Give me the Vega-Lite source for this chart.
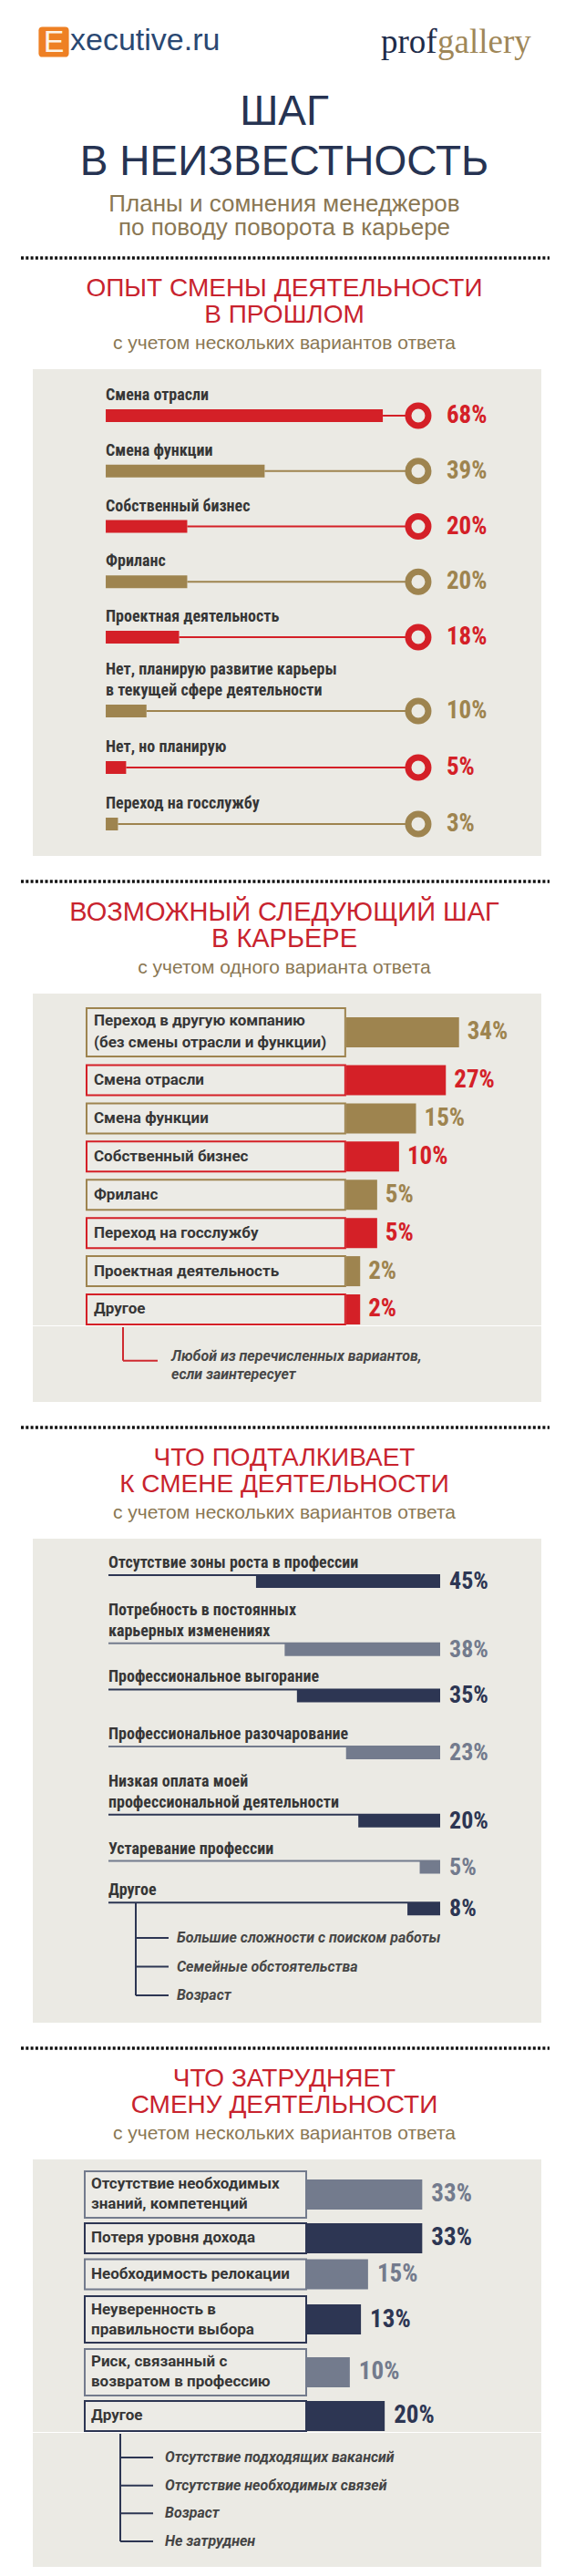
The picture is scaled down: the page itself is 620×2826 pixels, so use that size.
{
  "$schema": "https://vega.github.io/schema/vega-lite/v6.json",
  "padding": 0,
  "background": "white",
  "spacing": 18,
  "resolve": {"scale": {"color": "independent", "stroke": "independent"}},
  "config": {
    "view": {"stroke": null},
    "text": {"lineBreak": "\n"},
    "title": {"font": "Liberation Sans", "fontSize": 28, "fontWeight": "normal", "lineHeight": 29, "color": "#c8232e", "subtitleFont": "Liberation Sans", "subtitleFontSize": 21, "subtitleColor": "#8a7753", "subtitlePadding": 6, "subtitleLineHeight": 23, "offset": 17, "anchor": "middle", "dx": 15}
  },
  "datasets": {
    "one": [{}],
    "brands": [{"brand": "Executive.ru"}, {"brand": "profgallery"}],
    "past": [
      {"option": "Смена отрасли", "share": 0.68},
      {"option": "Смена функции", "share": 0.39},
      {"option": "Собственный бизнес", "share": 0.20},
      {"option": "Фриланс", "share": 0.20},
      {"option": "Проектная деятельность", "share": 0.18},
      {"option": "Нет, планирую развитие карьеры\nв текущей сфере деятельности", "share": 0.10},
      {"option": "Нет, но планирую", "share": 0.05},
      {"option": "Переход на госслужбу", "share": 0.03}
    ],
    "next": [
      {"option": "Переход в другую компанию\n(без смены отрасли и функции)", "share": 0.34},
      {"option": "Смена отрасли", "share": 0.27},
      {"option": "Смена функции", "share": 0.15},
      {"option": "Собственный бизнес", "share": 0.10},
      {"option": "Фриланс", "share": 0.05},
      {"option": "Переход на госслужбу", "share": 0.05},
      {"option": "Проектная деятельность", "share": 0.02},
      {"option": "Другое", "share": 0.02}
    ],
    "nextNote": [
      {"option": "Другое", "detail": "Любой из перечисленных вариантов,\nесли заинтересует"}
    ],
    "push": [
      {"reason": "Отсутствие зоны роста в профессии", "share": 0.45},
      {"reason": "Потребность в постоянных\nкарьерных изменениях", "share": 0.38},
      {"reason": "Профессиональное выгорание", "share": 0.35},
      {"reason": "Профессиональное разочарование", "share": 0.23},
      {"reason": "Низкая оплата моей\nпрофессиональной деятельности", "share": 0.20},
      {"reason": "Устаревание профессии", "share": 0.05}
    ],
    "pushOther": [
      {"reason": "Другое", "share": 0.08},
      {"reason": "Большие сложности с поиском работы", "share": null},
      {"reason": "Семейные обстоятельства", "share": null},
      {"reason": "Возраст", "share": null}
    ],
    "hinder": [
      {"obstacle": "Отсутствие необходимых\nзнаний, компетенций", "share": 0.33},
      {"obstacle": "Потеря уровня дохода", "share": 0.33},
      {"obstacle": "Необходимость релокации", "share": 0.15},
      {"obstacle": "Неуверенность в\nправильности выбора", "share": 0.13},
      {"obstacle": "Риск, связанный с\nвозвратом в профессию", "share": 0.10},
      {"obstacle": "Другое", "share": 0.20}
    ],
    "hinderOther": [
      {"obstacle": "Отсутствие подходящих вакансий"},
      {"obstacle": "Отсутствие необходимых связей"},
      {"obstacle": "Возраст"},
      {"obstacle": "Не затруднен"}
    ]
  },
  "vconcat": [
    {
      "width": 620, "height": 92,
      "data": {"name": "brands"},
      "title": {
        "text": ["ШАГ", "В НЕИЗВЕСТНОСТЬ"],
        "subtitle": ["Планы и сомнения менеджеров", "по поводу поворота в карьере"],
        "orient": "bottom", "offset": 9, "dx": 2,
        "fontSize": 46, "lineHeight": 55, "color": "#263352",
        "subtitleFontSize": 26, "subtitleLineHeight": 26, "subtitlePadding": 9
      },
      "encoding": {
        "x": {"field": "brand", "type": "nominal", "axis": null, "scale": {"type": "point", "padding": 0.3635, "align": 0.226}}
      },
      "layer": [
        {"transform": [{"filter": "datum.brand === 'Executive.ru'"}],
         "mark": {"type": "point", "shape": "M-0.75,-1H0.75Q1,-1 1,-0.75V0.75Q1,1 0.75,1H-0.75Q-1,1 -1,0.75V-0.75Q-1,-1 -0.75,-1Z", "size": 1100, "filled": true, "color": "#ee8024", "opacity": 1}},
        {"transform": [{"filter": "datum.brand === 'Executive.ru'"}],
         "mark": {"type": "text", "text": "E", "font": "Liberation Sans", "fontSize": 34, "color": "#fdf4e8", "align": "center", "baseline": "middle", "dy": 1}},
        {"transform": [{"filter": "datum.brand === 'Executive.ru'"}],
         "mark": {"type": "text", "text": "xecutive.ru", "font": "Liberation Sans", "fontSize": 34, "color": "#2a4872", "align": "left", "baseline": "alphabetic", "dx": 18, "dy": 9}},
        {"transform": [{"filter": "datum.brand === 'profgallery'"}],
         "mark": {"type": "text", "text": "prof", "font": "Liberation Serif", "fontSize": 37, "color": "#1e2b49", "align": "left", "baseline": "alphabetic", "dy": 12}},
        {"transform": [{"filter": "datum.brand === 'profgallery'"}],
         "mark": {"type": "text", "text": "gallery", "font": "Liberation Serif", "fontSize": 37, "color": "#9f8758", "align": "left", "baseline": "alphabetic", "dx": 62, "dy": 12}}
      ]
    },
    {
      "width": 620, "height": 1,
      "data": {"name": "one"},
      "mark": {"type": "rule", "strokeDash": [3, 2.3], "strokeWidth": 3.3, "color": "#111111"},
      "encoding": {
        "x": {"datum": 0.0371, "type": "quantitative", "axis": null, "scale": {"domain": [0, 1], "nice": false}},
        "x2": {"datum": 0.9726},
        "y": {"datum": 0, "type": "quantitative", "axis": null, "scale": {"domain": [0, 1]}}
      }
    },
    {
      "title": {"text": ["ОПЫТ СМЕНЫ ДЕЯТЕЛЬНОСТИ", "В ПРОШЛОМ"], "subtitle": "с учетом нескольких вариантов ответа"},
      "spacing": 0, "bounds": "flush",
      "resolve": {"scale": {"color": "independent", "stroke": "independent"}},
      "hconcat": [
        {"width": 36, "height": 10, "data": {"name": "one"}, "mark": {"type": "text", "text": ""}, "encoding": {}},
        {
          "spacing": 0, "bounds": "flush",
          "resolve": {"scale": {"color": "independent", "stroke": "independent"}},
          "vconcat": [
            {
              "width": 558, "height": 309,
              "view": {"fill": "#ebeae4", "stroke": null},
              "data": {"name": "past"},
              "transform": [{"filter": {"field": "option", "oneOf": ["Смена отрасли", "Смена функции", "Собственный бизнес", "Фриланс", "Проектная деятельность"]}}],
              "encoding": {
                "y": {"field": "option", "type": "nominal", "axis": null, "scale": {"type": "point", "domain": ["Смена отрасли", "Смена функции", "Собственный бизнес", "Фриланс", "Проектная деятельность"], "padding": 0.543, "align": 0.773}}
              },
              "layer": [
                {"mark": {"type": "rule", "strokeWidth": 2},
                 "encoding": {
                   "x": {"field": "share", "type": "quantitative", "axis": null, "scale": {"domain": [-0.179, 1.069], "zero": false, "nice": false}},
                   "x2": {"datum": 0.767},
                   "color": {"field": "option", "type": "nominal", "legend": null, "scale": {"domain": ["Смена отрасли", "Смена функции", "Собственный бизнес", "Фриланс", "Проектная деятельность"], "range": ["#d42027", "#9e844f", "#d42027", "#9e844f", "#d42027"]}}
                 }},
                {"mark": {"type": "bar", "size": 14},
                 "encoding": {
                   "x": {"field": "share", "type": "quantitative"},
                   "x2": {"datum": 0},
                   "color": {"field": "option", "type": "nominal", "legend": null}
                 }},
                {"mark": {"type": "point", "shape": "circle", "filled": true, "fill": "#ebeae4", "strokeWidth": 7, "size": 484, "opacity": 1},
                 "encoding": {
                   "x": {"datum": 0.767, "type": "quantitative"},
                   "stroke": {"field": "option", "type": "nominal", "legend": null, "scale": {"domain": ["Смена отрасли", "Смена функции", "Собственный бизнес", "Фриланс", "Проектная деятельность"], "range": ["#d42027", "#9e844f", "#d42027", "#9e844f", "#d42027"]}}
                 }},
                {"mark": {"type": "text", "align": "left", "baseline": "middle", "dx": 31, "font": "Roboto Condensed, Liberation Sans Narrow, Roboto", "fontWeight": "bold", "fontSize": 27},
                 "encoding": {
                   "x": {"datum": 0.767, "type": "quantitative"},
                   "text": {"field": "share", "type": "quantitative", "format": ".0%"},
                   "color": {"field": "option", "type": "nominal", "legend": null}
                 }},
                {"mark": {"type": "text", "align": "left", "baseline": "bottom", "dy": -13, "font": "Roboto Condensed, Liberation Sans Narrow, Roboto", "fontWeight": "bold", "fontSize": 18, "lineHeight": 23, "color": "#363636"},
                 "encoding": {
                   "x": {"datum": 0, "type": "quantitative"},
                   "text": {"field": "option", "type": "nominal"}
                 }}
              ]
            },
            {
              "width": 558, "height": 225,
              "view": {"fill": "#ebeae4", "stroke": null},
              "data": {"name": "past"},
              "transform": [{"filter": {"field": "option", "oneOf": ["Нет, планирую развитие карьеры\nв текущей сфере деятельности", "Нет, но планирую", "Переход на госслужбу"]}}],
              "encoding": {
                "y": {"field": "option", "type": "nominal", "axis": null, "scale": {"type": "point", "domain": ["Нет, планирую развитие карьеры\nв текущей сфере деятельности", "Нет, но планирую", "Переход на госслужбу"], "padding": 0.8145, "align": 0.6535}}
              },
              "layer": [
                {"mark": {"type": "rule", "strokeWidth": 2},
                 "encoding": {
                   "x": {"field": "share", "type": "quantitative", "axis": null, "scale": {"domain": [-0.179, 1.069], "zero": false, "nice": false}},
                   "x2": {"datum": 0.767},
                   "color": {"field": "option", "type": "nominal", "legend": null, "scale": {"domain": ["Нет, планирую развитие карьеры\nв текущей сфере деятельности", "Нет, но планирую", "Переход на госслужбу"], "range": ["#9e844f", "#d42027", "#9e844f"]}}
                 }},
                {"mark": {"type": "bar", "size": 14},
                 "encoding": {
                   "x": {"field": "share", "type": "quantitative"},
                   "x2": {"datum": 0},
                   "color": {"field": "option", "type": "nominal", "legend": null}
                 }},
                {"mark": {"type": "point", "shape": "circle", "filled": true, "fill": "#ebeae4", "strokeWidth": 7, "size": 484, "opacity": 1},
                 "encoding": {
                   "x": {"datum": 0.767, "type": "quantitative"},
                   "stroke": {"field": "option", "type": "nominal", "legend": null, "scale": {"domain": ["Нет, планирую развитие карьеры\nв текущей сфере деятельности", "Нет, но планирую", "Переход на госслужбу"], "range": ["#9e844f", "#d42027", "#9e844f"]}}
                 }},
                {"mark": {"type": "text", "align": "left", "baseline": "middle", "dx": 31, "font": "Roboto Condensed, Liberation Sans Narrow, Roboto", "fontWeight": "bold", "fontSize": 27},
                 "encoding": {
                   "x": {"datum": 0.767, "type": "quantitative"},
                   "text": {"field": "share", "type": "quantitative", "format": ".0%"},
                   "color": {"field": "option", "type": "nominal", "legend": null}
                 }},
                {"transform": [{"filter": "indexof(datum.option, '\\n') < 0"}],
                 "mark": {"type": "text", "align": "left", "baseline": "bottom", "dy": -13, "font": "Roboto Condensed, Liberation Sans Narrow, Roboto", "fontWeight": "bold", "fontSize": 18, "lineHeight": 23, "color": "#363636"},
                 "encoding": {
                   "x": {"datum": 0, "type": "quantitative"},
                   "text": {"field": "option", "type": "nominal"}
                 }},
                {"transform": [{"filter": "indexof(datum.option, '\\n') >= 0"}],
                 "mark": {"type": "text", "align": "left", "baseline": "bottom", "dy": -36, "font": "Roboto Condensed, Liberation Sans Narrow, Roboto", "fontWeight": "bold", "fontSize": 18, "lineHeight": 23, "color": "#363636"},
                 "encoding": {
                   "x": {"datum": 0, "type": "quantitative"},
                   "text": {"field": "option", "type": "nominal"}
                 }}
              ]
            }
          ]
        }
      ]
    },
    {
      "width": 620, "height": 10,
      "data": {"name": "one"},
      "mark": {"type": "rule", "strokeDash": [3, 2.3], "strokeWidth": 3.3, "color": "#111111"},
      "encoding": {
        "x": {"datum": 0.0371, "type": "quantitative", "axis": null, "scale": {"domain": [0, 1], "nice": false}},
        "x2": {"datum": 0.9726},
        "y": {"datum": 0, "type": "quantitative", "axis": null, "scale": {"domain": [0, 1]}}
      }
    },
    {
      "title": {"text": ["ВОЗМОЖНЫЙ СЛЕДУЮЩИЙ ШАГ", "В КАРЬЕРЕ"], "subtitle": "с учетом одного варианта ответа", "fontSize": 29},
      "spacing": 0, "bounds": "flush",
      "resolve": {"scale": {"color": "independent", "stroke": "independent"}},
      "hconcat": [
        {"width": 36, "height": 10, "data": {"name": "one"}, "mark": {"type": "text", "text": ""}, "encoding": {}},
        {
          "spacing": 0, "bounds": "full",
          "resolve": {"scale": {"color": "independent", "stroke": "independent"}},
          "vconcat": [
            {
              "spacing": 0, "bounds": "flush",
              "resolve": {"scale": {"color": "independent", "stroke": "independent"}},
              "hconcat": [
                {
                  "width": 344, "height": 364,
                  "view": {"fill": "#ebeae4", "stroke": null},
                  "data": {"name": "next"},
                  "encoding": {
                    "y": {"field": "option", "type": "nominal", "axis": null, "scale": {"type": "point", "domain": ["Переход в другую компанию\n(без смены отрасли и функции)", "Смена отрасли", "Смена функции", "Собственный бизнес", "Фриланс", "Переход на госслужбу", "Проектная деятельность", "Другое"], "padding": 0.842, "align": 0.752}}
                  },
                  "layer": [
                    {"transform": [{"filter": "indexof(datum.option, '\\n') < 0"}],
                     "mark": {"type": "bar", "fill": "#ecebe6", "strokeWidth": 2, "size": 33},
                     "encoding": {
                       "x": {"datum": 0.1715, "type": "quantitative", "axis": null, "scale": {"domain": [0, 1], "nice": false, "zero": false}},
                       "x2": {"datum": 0.9967},
                       "stroke": {"field": "option", "type": "nominal", "legend": null, "scale": {"domain": ["Переход в другую компанию\n(без смены отрасли и функции)", "Смена отрасли", "Смена функции", "Собственный бизнес", "Фриланс", "Переход на госслужбу", "Проектная деятельность", "Другое"], "range": ["#9e844f", "#d42027", "#9e844f", "#d42027", "#9e844f", "#d42027", "#9e844f", "#d42027"]}}
                     }},
                    {"transform": [{"filter": "indexof(datum.option, '\\n') >= 0"}],
                     "mark": {"type": "bar", "fill": "#ecebe6", "strokeWidth": 2, "size": 53, "yOffset": -10.6},
                     "encoding": {
                       "x": {"datum": 0.1715, "type": "quantitative"},
                       "x2": {"datum": 0.9967},
                       "stroke": {"field": "option", "type": "nominal", "legend": null}
                     }},
                    {"transform": [{"filter": "indexof(datum.option, '\\n') < 0"}],
                     "mark": {"type": "text", "align": "left", "baseline": "middle", "dx": 8, "font": "Roboto", "fontWeight": "bold", "fontSize": 17, "lineHeight": 24, "color": "#363636"},
                     "encoding": {
                       "x": {"datum": 0.1715, "type": "quantitative"},
                       "text": {"field": "option", "type": "nominal"}
                     }},
                    {"transform": [{"filter": "indexof(datum.option, '\\n') >= 0"}],
                     "mark": {"type": "text", "align": "left", "baseline": "middle", "dx": 8, "dy": -22.6, "font": "Roboto", "fontWeight": "bold", "fontSize": 17, "lineHeight": 24, "color": "#363636"},
                     "encoding": {
                       "x": {"datum": 0.1715, "type": "quantitative"},
                       "text": {"field": "option", "type": "nominal"}
                     }}
                  ]
                },
                {
                  "width": 214, "height": 364,
                  "view": {"fill": "#ebeae4", "stroke": null},
                  "data": {"name": "next"},
                  "encoding": {
                    "y": {"field": "option", "type": "nominal", "axis": null, "scale": {"type": "point", "domain": ["Переход в другую компанию\n(без смены отрасли и функции)", "Смена отрасли", "Смена функции", "Собственный бизнес", "Фриланс", "Переход на госслужбу", "Проектная деятельность", "Другое"], "padding": 0.842, "align": 0.752}}
                  },
                  "layer": [
                    {"transform": [{"filter": "indexof(datum.option, '\\n') < 0"}],
                     "mark": {"type": "bar", "size": 33},
                     "encoding": {
                       "x": {"field": "share", "type": "quantitative", "axis": null, "scale": {"type": "symlog", "constant": 0.1, "domain": [0, 1.197], "nice": false}},
                       "x2": {"datum": 0},
                       "color": {"field": "option", "type": "nominal", "legend": null, "scale": {"domain": ["Переход в другую компанию\n(без смены отрасли и функции)", "Смена отрасли", "Смена функции", "Собственный бизнес", "Фриланс", "Переход на госслужбу", "Проектная деятельность", "Другое"], "range": ["#9e844f", "#d42027", "#9e844f", "#d42027", "#9e844f", "#d42027", "#9e844f", "#d42027"]}}
                     }},
                    {"transform": [{"filter": "indexof(datum.option, '\\n') >= 0"}],
                     "mark": {"type": "bar", "size": 33, "yOffset": -10.6},
                     "encoding": {
                       "x": {"field": "share", "type": "quantitative"},
                       "x2": {"datum": 0},
                       "color": {"field": "option", "type": "nominal", "legend": null}
                     }},
                    {"transform": [{"filter": "indexof(datum.option, '\\n') < 0"}],
                     "mark": {"type": "text", "align": "left", "baseline": "middle", "dx": 9, "font": "Roboto Condensed, Liberation Sans Narrow, Roboto", "fontWeight": "bold", "fontSize": 27},
                     "encoding": {
                       "x": {"field": "share", "type": "quantitative"},
                       "text": {"field": "share", "type": "quantitative", "format": ".0%"},
                       "color": {"field": "option", "type": "nominal", "legend": null}
                     }},
                    {"transform": [{"filter": "indexof(datum.option, '\\n') >= 0"}],
                     "mark": {"type": "text", "align": "left", "baseline": "middle", "dx": 9, "dy": -10.6, "font": "Roboto Condensed, Liberation Sans Narrow, Roboto", "fontWeight": "bold", "fontSize": 27},
                     "encoding": {
                       "x": {"field": "share", "type": "quantitative"},
                       "text": {"field": "share", "type": "quantitative", "format": ".0%"},
                       "color": {"field": "option", "type": "nominal", "legend": null}
                     }}
                  ]
                }
              ]
            },
            {
              "width": 558, "height": 83,
              "view": {"fill": "#ebeae4", "stroke": null},
              "data": {"name": "nextNote"},
              "encoding": {
                "y": {"field": "detail", "type": "nominal", "axis": null, "scale": {"type": "point", "align": 0.454}}
              },
              "layer": [
                {"mark": {"type": "rule", "strokeWidth": 2, "color": "#cf2a30", "yOffset": -36.7},
                 "encoding": {
                   "x": {"datum": 0.1774, "type": "quantitative", "axis": null, "scale": {"domain": [0, 1], "nice": false, "zero": false}},
                   "y2": {"field": "detail"}
                 }},
                {"mark": {"type": "rule", "strokeWidth": 2, "color": "#cf2a30"},
                 "encoding": {
                   "x": {"datum": 0.1774, "type": "quantitative"},
                   "x2": {"datum": 0.2455}
                 }},
                {"mark": {"type": "text", "align": "left", "baseline": "middle", "dy": -5, "lineHeight": 20, "font": "Roboto", "fontStyle": "italic", "fontWeight": "bold", "fontSize": 16, "color": "#474747"},
                 "encoding": {
                   "x": {"datum": 0.2724, "type": "quantitative"},
                   "text": {"field": "detail", "type": "nominal"}
                 }}
              ]
            }
          ]
        }
      ]
    },
    {
      "width": 620, "height": 10,
      "data": {"name": "one"},
      "mark": {"type": "rule", "strokeDash": [3, 2.3], "strokeWidth": 3.3, "color": "#111111"},
      "encoding": {
        "x": {"datum": 0.0371, "type": "quantitative", "axis": null, "scale": {"domain": [0, 1], "nice": false}},
        "x2": {"datum": 0.9726},
        "y": {"datum": 0, "type": "quantitative", "axis": null, "scale": {"domain": [0, 1]}}
      }
    },
    {
      "title": {"text": ["ЧТО ПОДТАЛКИВАЕТ", "К СМЕНЕ ДЕЯТЕЛЬНОСТИ"], "subtitle": "с учетом нескольких вариантов ответа"},
      "spacing": 0, "bounds": "flush",
      "resolve": {"scale": {"color": "independent", "stroke": "independent"}},
      "hconcat": [
        {"width": 36, "height": 10, "data": {"name": "one"}, "mark": {"type": "text", "text": ""}, "encoding": {}},
        {
          "spacing": 0, "bounds": "flush",
          "resolve": {"scale": {"color": "independent", "stroke": "independent"}},
          "vconcat": [
            {
              "width": 558, "height": 373,
              "view": {"fill": "#ebeae4", "stroke": null},
              "data": {"name": "push"},
              "encoding": {
                "y": {"field": "reason", "type": "nominal", "axis": null, "scale": {"type": "point", "domain": ["Отсутствие зоны роста в профессии", "Потребность в постоянных\nкарьерных изменениях", "Профессиональное выгорание", "Профессиональное разочарование", "Низкая оплата моей\nпрофессиональной деятельности", "Устаревание профессии"], "padding": 0.4745, "align": 0.79}}
              },
              "layer": [
                {"transform": [{"filter": "indexof(datum.reason, '\\n') < 0"}],
                 "mark": {"type": "rule", "strokeWidth": 2, "yOffset": -7},
                 "encoding": {
                   "x": {"datum": 0.8107, "type": "quantitative", "axis": null, "scale": {"domain": [-0.2472, 0.9955], "reverse": true, "zero": false, "nice": false}},
                   "x2": {"datum": 0},
                   "color": {"field": "reason", "type": "nominal", "legend": null, "scale": {"domain": ["Отсутствие зоны роста в профессии", "Потребность в постоянных\nкарьерных изменениях", "Профессиональное выгорание", "Профессиональное разочарование", "Низкая оплата моей\nпрофессиональной деятельности", "Устаревание профессии"], "range": ["#2d3653", "#737b8d", "#2d3653", "#737b8d", "#2d3653", "#737b8d"]}}
                 }},
                {"transform": [{"filter": "indexof(datum.reason, '\\n') >= 0"}],
                 "mark": {"type": "rule", "strokeWidth": 2, "yOffset": 5},
                 "encoding": {
                   "x": {"datum": 0.8107, "type": "quantitative"},
                   "x2": {"datum": 0},
                   "color": {"field": "reason", "type": "nominal", "legend": null}
                 }},
                {"transform": [{"filter": "indexof(datum.reason, '\\n') < 0"}],
                 "mark": {"type": "bar", "size": 14},
                 "encoding": {
                   "x": {"field": "share", "type": "quantitative"},
                   "x2": {"datum": 0},
                   "color": {"field": "reason", "type": "nominal", "legend": null}
                 }},
                {"transform": [{"filter": "indexof(datum.reason, '\\n') >= 0"}],
                 "mark": {"type": "bar", "size": 14, "yOffset": 12},
                 "encoding": {
                   "x": {"field": "share", "type": "quantitative"},
                   "x2": {"datum": 0},
                   "color": {"field": "reason", "type": "nominal", "legend": null}
                 }},
                {"transform": [{"filter": "indexof(datum.reason, '\\n') < 0"}],
                 "mark": {"type": "text", "align": "left", "baseline": "middle", "dx": 10, "font": "Roboto Condensed, Liberation Sans Narrow, Roboto", "fontWeight": "bold", "fontSize": 26},
                 "encoding": {
                   "x": {"datum": 0, "type": "quantitative"},
                   "text": {"field": "share", "type": "quantitative", "format": ".0%"},
                   "color": {"field": "reason", "type": "nominal", "legend": null}
                 }},
                {"transform": [{"filter": "indexof(datum.reason, '\\n') >= 0"}],
                 "mark": {"type": "text", "align": "left", "baseline": "middle", "dx": 10, "dy": 12, "font": "Roboto Condensed, Liberation Sans Narrow, Roboto", "fontWeight": "bold", "fontSize": 26},
                 "encoding": {
                   "x": {"datum": 0, "type": "quantitative"},
                   "text": {"field": "share", "type": "quantitative", "format": ".0%"},
                   "color": {"field": "reason", "type": "nominal", "legend": null}
                 }},
                {"transform": [{"filter": "indexof(datum.reason, '\\n') < 0"}],
                 "mark": {"type": "text", "align": "left", "baseline": "bottom", "dy": -11, "font": "Roboto Condensed, Liberation Sans Narrow, Roboto", "fontWeight": "bold", "fontSize": 18, "lineHeight": 23, "color": "#363636"},
                 "encoding": {
                   "x": {"datum": 0.8107, "type": "quantitative"},
                   "text": {"field": "reason", "type": "nominal"}
                 }},
                {"transform": [{"filter": "indexof(datum.reason, '\\n') >= 0"}],
                 "mark": {"type": "text", "align": "left", "baseline": "bottom", "dy": -22, "font": "Roboto Condensed, Liberation Sans Narrow, Roboto", "fontWeight": "bold", "fontSize": 18, "lineHeight": 23, "color": "#363636"},
                 "encoding": {
                   "x": {"datum": 0.8107, "type": "quantitative"},
                   "text": {"field": "reason", "type": "nominal"}
                 }}
              ]
            },
            {
              "width": 558, "height": 158,
              "view": {"fill": "#ebeae4", "stroke": null},
              "data": {"name": "pushOther"},
              "encoding": {
                "y": {"field": "reason", "type": "nominal", "axis": null, "scale": {"type": "point", "domain": ["Другое", "Большие сложности с поиском работы", "Семейные обстоятельства", "Возраст"], "padding": 1.321, "align": 0.527}}
              },
              "layer": [
                {"transform": [{"filter": "isValid(datum.share)"}],
                 "mark": {"type": "rule", "strokeWidth": 2, "yOffset": -7, "color": "#2d3653"},
                 "encoding": {
                   "x": {"datum": 0.8107, "type": "quantitative", "axis": null, "scale": {"domain": [-0.2472, 0.9955], "reverse": true, "zero": false, "nice": false}},
                   "x2": {"datum": 0}
                 }},
                {"transform": [{"filter": "!isValid(datum.share)"}],
                 "mark": {"type": "rule", "strokeWidth": 2, "yOffset": -7, "color": "#2d3653"},
                 "encoding": {
                   "x": {"datum": 0.7439, "type": "quantitative"},
                   "y": {"datum": "Другое", "type": "nominal"},
                   "y2": {"field": "reason"}
                 }},
                {"transform": [{"filter": "!isValid(datum.share)"}],
                 "mark": {"type": "rule", "strokeWidth": 2, "color": "#2d3653"},
                 "encoding": {
                   "x": {"datum": 0.7439, "type": "quantitative"},
                   "x2": {"datum": 0.6637}
                 }},
                {"transform": [{"filter": "isValid(datum.share)"}],
                 "mark": {"type": "bar", "size": 14, "color": "#2d3653"},
                 "encoding": {
                   "x": {"field": "share", "type": "quantitative"},
                   "x2": {"datum": 0}
                 }},
                {"transform": [{"filter": "isValid(datum.share)"}],
                 "mark": {"type": "text", "align": "left", "baseline": "middle", "dx": 10, "font": "Roboto Condensed, Liberation Sans Narrow, Roboto", "fontWeight": "bold", "fontSize": 26, "color": "#2d3653"},
                 "encoding": {
                   "x": {"datum": 0, "type": "quantitative"},
                   "text": {"field": "share", "type": "quantitative", "format": ".0%"}
                 }},
                {"transform": [{"filter": "isValid(datum.share)"}],
                 "mark": {"type": "text", "align": "left", "baseline": "bottom", "dy": -11, "font": "Roboto Condensed, Liberation Sans Narrow, Roboto", "fontWeight": "bold", "fontSize": 18, "lineHeight": 23, "color": "#363636"},
                 "encoding": {
                   "x": {"datum": 0.8107, "type": "quantitative"},
                   "text": {"field": "reason", "type": "nominal"}
                 }},
                {"transform": [{"filter": "!isValid(datum.share)"}],
                 "mark": {"type": "text", "align": "left", "baseline": "middle", "font": "Roboto", "fontStyle": "italic", "fontWeight": "bold", "fontSize": 16, "color": "#474747"},
                 "encoding": {
                   "x": {"datum": 0.6437, "type": "quantitative"},
                   "text": {"field": "reason", "type": "nominal"}
                 }}
              ]
            }
          ]
        }
      ]
    },
    {
      "width": 620, "height": 10,
      "data": {"name": "one"},
      "mark": {"type": "rule", "strokeDash": [3, 2.3], "strokeWidth": 3.3, "color": "#111111"},
      "encoding": {
        "x": {"datum": 0.0371, "type": "quantitative", "axis": null, "scale": {"domain": [0, 1], "nice": false}},
        "x2": {"datum": 0.9726},
        "y": {"datum": 0, "type": "quantitative", "axis": null, "scale": {"domain": [0, 1]}}
      }
    },
    {
      "title": {"text": ["ЧТО ЗАТРУДНЯЕТ", "СМЕНУ ДЕЯТЕЛЬНОСТИ"], "subtitle": "с учетом нескольких вариантов ответа"},
      "spacing": 0, "bounds": "flush",
      "resolve": {"scale": {"color": "independent", "stroke": "independent"}},
      "hconcat": [
        {"width": 36, "height": 10, "data": {"name": "one"}, "mark": {"type": "text", "text": ""}, "encoding": {}},
        {
          "spacing": 0, "bounds": "full",
          "resolve": {"scale": {"color": "independent", "stroke": "independent"}},
          "vconcat": [
            {
              "spacing": 0, "bounds": "flush",
              "resolve": {"scale": {"color": "independent", "stroke": "independent"}},
              "hconcat": [
                {
                  "width": 301, "height": 146,
                  "view": {"fill": "#ebeae4", "stroke": null},
                  "data": {"name": "hinder"},
                  "transform": [{"filter": {"field": "obstacle", "oneOf": ["Отсутствие необходимых\nзнаний, компетенций", "Потеря уровня дохода", "Необходимость релокации"]}}],
                  "encoding": {
                    "y": {"field": "obstacle", "type": "nominal", "axis": null, "scale": {"type": "point", "domain": ["Отсутствие необходимых\nзнаний, компетенций", "Потеря уровня дохода", "Необходимость релокации"], "padding": 0.848, "align": 0.7015}}
                  },
                  "layer": [
                    {"transform": [{"filter": "indexof(datum.obstacle, '\\n') < 0"}],
                     "mark": {"type": "bar", "fill": "#ecebe6", "strokeWidth": 2, "size": 33},
                     "encoding": {
                       "x": {"datum": 0.1894, "type": "quantitative", "axis": null, "scale": {"domain": [0, 1], "nice": false, "zero": false}},
                       "x2": {"datum": 0.9967},
                       "stroke": {"field": "obstacle", "type": "nominal", "legend": null, "scale": {"domain": ["Отсутствие необходимых\nзнаний, компетенций", "Потеря уровня дохода", "Необходимость релокации"], "range": ["#737b8d", "#2d3653", "#737b8d"]}}
                     }},
                    {"transform": [{"filter": "indexof(datum.obstacle, '\\n') >= 0"}],
                     "mark": {"type": "bar", "fill": "#ecebe6", "strokeWidth": 2, "size": 51, "yOffset": -8.5},
                     "encoding": {
                       "x": {"datum": 0.1894, "type": "quantitative"},
                       "x2": {"datum": 0.9967},
                       "stroke": {"field": "obstacle", "type": "nominal", "legend": null}
                     }},
                    {"transform": [{"filter": "indexof(datum.obstacle, '\\n') < 0"}],
                     "mark": {"type": "text", "align": "left", "baseline": "middle", "dx": 7, "font": "Roboto", "fontWeight": "bold", "fontSize": 17, "lineHeight": 22, "color": "#363636"},
                     "encoding": {
                       "x": {"datum": 0.1894, "type": "quantitative"},
                       "text": {"field": "obstacle", "type": "nominal"}
                     }},
                    {"transform": [{"filter": "indexof(datum.obstacle, '\\n') >= 0"}],
                     "mark": {"type": "text", "align": "left", "baseline": "middle", "dx": 7, "dy": -19.5, "font": "Roboto", "fontWeight": "bold", "fontSize": 17, "lineHeight": 22, "color": "#363636"},
                     "encoding": {
                       "x": {"datum": 0.1894, "type": "quantitative"},
                       "text": {"field": "obstacle", "type": "nominal"}
                     }}
                  ]
                },
                {
                  "width": 257, "height": 146,
                  "view": {"fill": "#ebeae4", "stroke": null},
                  "data": {"name": "hinder"},
                  "transform": [{"filter": {"field": "obstacle", "oneOf": ["Отсутствие необходимых\nзнаний, компетенций", "Потеря уровня дохода", "Необходимость релокации"]}}],
                  "encoding": {
                    "y": {"field": "obstacle", "type": "nominal", "axis": null, "scale": {"type": "point", "domain": ["Отсутствие необходимых\nзнаний, компетенций", "Потеря уровня дохода", "Необходимость релокации"], "padding": 0.848, "align": 0.7015}}
                  },
                  "layer": [
                    {"transform": [{"filter": "indexof(datum.obstacle, '\\n') < 0"}],
                     "mark": {"type": "bar", "size": 33},
                     "encoding": {
                       "x": {"field": "share", "type": "quantitative", "axis": null, "scale": {"type": "symlog", "constant": 0.4, "domain": [0, 0.96], "nice": false}},
                       "x2": {"datum": 0},
                       "color": {"field": "obstacle", "type": "nominal", "legend": null, "scale": {"domain": ["Отсутствие необходимых\nзнаний, компетенций", "Потеря уровня дохода", "Необходимость релокации"], "range": ["#737b8d", "#2d3653", "#737b8d"]}}
                     }},
                    {"transform": [{"filter": "indexof(datum.obstacle, '\\n') >= 0"}],
                     "mark": {"type": "bar", "size": 33, "yOffset": -8.5},
                     "encoding": {
                       "x": {"field": "share", "type": "quantitative"},
                       "x2": {"datum": 0},
                       "color": {"field": "obstacle", "type": "nominal", "legend": null}
                     }},
                    {"transform": [{"filter": "indexof(datum.obstacle, '\\n') < 0"}],
                     "mark": {"type": "text", "align": "left", "baseline": "middle", "dx": 10, "font": "Roboto Condensed, Liberation Sans Narrow, Roboto", "fontWeight": "bold", "fontSize": 27},
                     "encoding": {
                       "x": {"field": "share", "type": "quantitative"},
                       "text": {"field": "share", "type": "quantitative", "format": ".0%"},
                       "color": {"field": "obstacle", "type": "nominal", "legend": null}
                     }},
                    {"transform": [{"filter": "indexof(datum.obstacle, '\\n') >= 0"}],
                     "mark": {"type": "text", "align": "left", "baseline": "middle", "dx": 10, "dy": -8.5, "font": "Roboto Condensed, Liberation Sans Narrow, Roboto", "fontWeight": "bold", "fontSize": 27},
                     "encoding": {
                       "x": {"field": "share", "type": "quantitative"},
                       "text": {"field": "share", "type": "quantitative", "format": ".0%"},
                       "color": {"field": "obstacle", "type": "nominal", "legend": null}
                     }}
                  ]
                }
              ]
            },
            {
              "spacing": 0, "bounds": "flush",
              "resolve": {"scale": {"color": "independent", "stroke": "independent"}},
              "hconcat": [
                {
                  "width": 301, "height": 153,
                  "view": {"fill": "#ebeae4", "stroke": null},
                  "data": {"name": "hinder"},
                  "transform": [{"filter": {"field": "obstacle", "oneOf": ["Неуверенность в\nправильности выбора", "Риск, связанный с\nвозвратом в профессию", "Другое"]}}],
                  "encoding": {
                    "y": {"field": "obstacle", "type": "nominal", "axis": null, "scale": {"type": "point", "domain": ["Неуверенность в\nправильности выбора", "Риск, связанный с\nвозвратом в профессию", "Другое"], "padding": 0.319, "align": 0.527}}
                  },
                  "layer": [
                    {"transform": [{"filter": "indexof(datum.obstacle, '\\n') < 0"}],
                     "mark": {"type": "bar", "fill": "#ecebe6", "strokeWidth": 2, "size": 33},
                     "encoding": {
                       "x": {"datum": 0.1894, "type": "quantitative", "axis": null, "scale": {"domain": [0, 1], "nice": false, "zero": false}},
                       "x2": {"datum": 0.9967},
                       "stroke": {"field": "obstacle", "type": "nominal", "legend": null, "scale": {"domain": ["Неуверенность в\nправильности выбора", "Риск, связанный с\nвозвратом в профессию", "Другое"], "range": ["#2d3653", "#737b8d", "#2d3653"]}}
                     }},
                    {"transform": [{"filter": "indexof(datum.obstacle, '\\n') >= 0"}],
                     "mark": {"type": "bar", "fill": "#ecebe6", "strokeWidth": 2, "size": 51, "yOffset": 10},
                     "encoding": {
                       "x": {"datum": 0.1894, "type": "quantitative"},
                       "x2": {"datum": 0.9967},
                       "stroke": {"field": "obstacle", "type": "nominal", "legend": null}
                     }},
                    {"transform": [{"filter": "indexof(datum.obstacle, '\\n') < 0"}],
                     "mark": {"type": "text", "align": "left", "baseline": "middle", "dx": 7, "font": "Roboto", "fontWeight": "bold", "fontSize": 17, "lineHeight": 22, "color": "#363636"},
                     "encoding": {
                       "x": {"datum": 0.1894, "type": "quantitative"},
                       "text": {"field": "obstacle", "type": "nominal"}
                     }},
                    {"transform": [{"filter": "indexof(datum.obstacle, '\\n') >= 0"}],
                     "mark": {"type": "text", "align": "left", "baseline": "middle", "dx": 7, "dy": -1, "font": "Roboto", "fontWeight": "bold", "fontSize": 17, "lineHeight": 22, "color": "#363636"},
                     "encoding": {
                       "x": {"datum": 0.1894, "type": "quantitative"},
                       "text": {"field": "obstacle", "type": "nominal"}
                     }}
                  ]
                },
                {
                  "width": 257, "height": 153,
                  "view": {"fill": "#ebeae4", "stroke": null},
                  "data": {"name": "hinder"},
                  "transform": [{"filter": {"field": "obstacle", "oneOf": ["Неуверенность в\nправильности выбора", "Риск, связанный с\nвозвратом в профессию", "Другое"]}}],
                  "encoding": {
                    "y": {"field": "obstacle", "type": "nominal", "axis": null, "scale": {"type": "point", "domain": ["Неуверенность в\nправильности выбора", "Риск, связанный с\nвозвратом в профессию", "Другое"], "padding": 0.319, "align": 0.527}}
                  },
                  "layer": [
                    {"transform": [{"filter": "indexof(datum.obstacle, '\\n') < 0"}],
                     "mark": {"type": "bar", "size": 33},
                     "encoding": {
                       "x": {"field": "share", "type": "quantitative", "axis": null, "scale": {"type": "symlog", "constant": 0.4, "domain": [0, 0.96], "nice": false}},
                       "x2": {"datum": 0},
                       "color": {"field": "obstacle", "type": "nominal", "legend": null, "scale": {"domain": ["Неуверенность в\nправильности выбора", "Риск, связанный с\nвозвратом в профессию", "Другое"], "range": ["#2d3653", "#737b8d", "#2d3653"]}}
                     }},
                    {"transform": [{"filter": "indexof(datum.obstacle, '\\n') >= 0"}],
                     "mark": {"type": "bar", "size": 33, "yOffset": 10},
                     "encoding": {
                       "x": {"field": "share", "type": "quantitative"},
                       "x2": {"datum": 0},
                       "color": {"field": "obstacle", "type": "nominal", "legend": null}
                     }},
                    {"transform": [{"filter": "indexof(datum.obstacle, '\\n') < 0"}],
                     "mark": {"type": "text", "align": "left", "baseline": "middle", "dx": 10, "font": "Roboto Condensed, Liberation Sans Narrow, Roboto", "fontWeight": "bold", "fontSize": 27},
                     "encoding": {
                       "x": {"field": "share", "type": "quantitative"},
                       "text": {"field": "share", "type": "quantitative", "format": ".0%"},
                       "color": {"field": "obstacle", "type": "nominal", "legend": null}
                     }},
                    {"transform": [{"filter": "indexof(datum.obstacle, '\\n') >= 0"}],
                     "mark": {"type": "text", "align": "left", "baseline": "middle", "dx": 10, "dy": 10, "font": "Roboto Condensed, Liberation Sans Narrow, Roboto", "fontWeight": "bold", "fontSize": 27},
                     "encoding": {
                       "x": {"field": "share", "type": "quantitative"},
                       "text": {"field": "share", "type": "quantitative", "format": ".0%"},
                       "color": {"field": "obstacle", "type": "nominal", "legend": null}
                     }}
                  ]
                }
              ]
            },
            {
              "width": 558, "height": 147,
              "view": {"fill": "#ebeae4", "stroke": null},
              "data": {"name": "hinderOther"},
              "encoding": {
                "y": {"field": "obstacle", "type": "nominal", "axis": null, "scale": {"type": "point", "domain": ["Отсутствие подходящих вакансий", "Отсутствие необходимых связей", "Возраст", "Не затруднен"], "padding": 0.896, "align": 0.491}}
              },
              "layer": [
                {"mark": {"type": "rule", "strokeWidth": 2, "color": "#2d3653", "yOffset": -26},
                 "encoding": {
                   "x": {"datum": 0.172, "type": "quantitative", "axis": null, "scale": {"domain": [0, 1], "nice": false, "zero": false}},
                   "y": {"datum": "Отсутствие подходящих вакансий", "type": "nominal"},
                   "y2": {"field": "obstacle"}
                 }},
                {"mark": {"type": "rule", "strokeWidth": 2, "color": "#2d3653"},
                 "encoding": {
                   "x": {"datum": 0.172, "type": "quantitative"},
                   "x2": {"datum": 0.2366}
                 }},
                {"mark": {"type": "text", "align": "left", "baseline": "middle", "font": "Roboto", "fontStyle": "italic", "fontWeight": "bold", "fontSize": 16, "color": "#444444"},
                 "encoding": {
                   "x": {"datum": 0.26, "type": "quantitative"},
                   "text": {"field": "obstacle", "type": "nominal"}
                 }}
              ]
            }
          ]
        }
      ]
    }
  ]
}
